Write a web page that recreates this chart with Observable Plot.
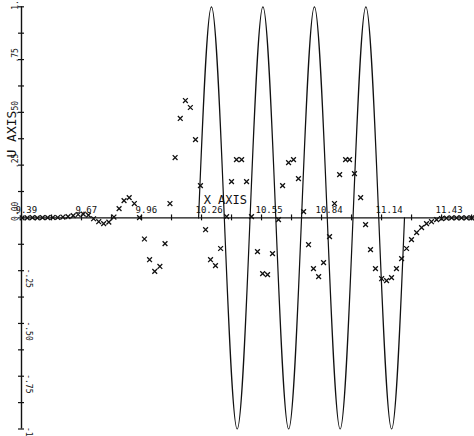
<!DOCTYPE html>
<html><head><meta charset="utf-8">
<script src="https://cdn.jsdelivr.net/npm/d3@7"></script>
<script src="https://cdn.jsdelivr.net/npm/@observablehq/plot@0.6"></script>
<style>body{margin:0;background:#fff} svg{display:block}</style>
</head><body><div id="chart"></div>
<script>
// X axis tick positions (labelled) and their printed labels
const xTickValues = [9.39, 9.6814, 9.9729, 10.2643, 10.5557, 10.8471, 11.1386, 11.43];
const xTickLabels = ["9.39", "9.67", "9.96", "10.26", "10.55", "10.84", "11.14", "11.43"];
// all tick marks on X axis (labelled + intermediate)
const xTickMarks = [9.39, 9.5357, 9.6814, 9.8271, 9.9729, 10.1186, 10.2643, 10.41, 10.5557, 10.7014, 10.8471, 10.9929, 11.1386, 11.2843, 11.43, 11.5757];
// Y axis tick marks
const yTickMarks = [-1, -0.875, -0.75, -0.625, -0.5, -0.375, -0.25, -0.125, 0, 0.125, 0.25, 0.375, 0.5, 0.625, 0.75, 0.875, 1];
const yPosTicks = [1, 0.75, 0.5, 0.25, 0];
const yPosLabels = ["1.00", ".75", ".50", ".25", "0.00"];
const yNegTicks = [-0.25, -0.5, -0.75, -1];
const yNegLabels = ["-.25", "-.50", "-.75", "-1.00"];
const xTitle = "X AXIS";
const yTitle = "U AXIS";

// exact wave (solid line): zero crossings and extremes
const waveX = [10.25, 10.3125, 10.375, 10.4375, 10.5, 10.5625, 10.625, 10.6875, 10.75, 10.8125, 10.875, 10.9375, 11.0, 11.0625, 11.125, 11.1875, 11.25];
const waveU = [0, 1, 0, -1, 0, 1, 0, -1, 0, 1, 0, -1, 0, 1, 0, -1, 0];

// computed values (x markers)
const markerX = [9.393, 9.418, 9.443, 9.467, 9.492, 9.517, 9.542, 9.566, 9.591, 9.616,
  9.641, 9.665, 9.690, 9.715, 9.740, 9.765, 9.789, 9.814, 9.839, 9.864,
  9.888, 9.913, 9.938, 9.963, 9.987, 10.012, 10.037, 10.062, 10.087, 10.111,
  10.136, 10.161, 10.186, 10.210, 10.235, 10.259, 10.284, 10.308, 10.332, 10.357,
  10.386, 10.410, 10.434, 10.459, 10.483, 10.507, 10.536, 10.561, 10.585, 10.609,
  10.638, 10.658, 10.687, 10.711, 10.735, 10.760, 10.784, 10.808, 10.833, 10.857,
  10.886, 10.910, 10.935, 10.964, 10.983, 11.007, 11.037, 11.061, 11.085, 11.109,
  11.139, 11.163, 11.187, 11.211, 11.236, 11.260, 11.284, 11.309, 11.333, 11.357,
  11.381, 11.406, 11.430, 11.454, 11.479, 11.503, 11.527, 11.551, 11.576];
const markerU = [0.000, 0.000, 0.001, 0.000, 0.001, 0.001, 0.002, 0.002, 0.004, 0.006,
  0.011, 0.016, 0.018, 0.013, -0.004, -0.018, -0.027, -0.020, 0.004, 0.044,
  0.082, 0.096, 0.068, 0.001, -0.100, -0.198, -0.253, -0.230, -0.122, 0.068,
  0.286, 0.471, 0.556, 0.523, 0.371, 0.153, -0.056, -0.198, -0.226, -0.145,
  0.006, 0.172, 0.276, 0.276, 0.172, 0.006, -0.160, -0.264, -0.269, -0.169,
  -0.008, 0.153, 0.262, 0.276, 0.186, 0.030, -0.127, -0.240, -0.278, -0.212,
  -0.089, 0.068, 0.205, 0.276, 0.276, 0.210, 0.096, -0.032, -0.150, -0.240,
  -0.288, -0.297, -0.283, -0.240, -0.193, -0.145, -0.103, -0.070, -0.046, -0.027,
  -0.018, -0.008, -0.003, -0.001, 0.000, 0.000, 0.000, 0.000, 0.000];

const ink = "#111";
const mono = "DejaVu Sans Mono";
const wave = waveX.map((x, i) => ({x, u: waveU[i]}));
const markers = markerX.map((x, i) => ({x, u: markerU[i]}));

const chart = Plot.plot({
  width: 474,
  height: 436,
  marginLeft: 21,
  marginRight: 0,
  marginTop: 6.3,
  marginBottom: 7.5,
  x: {domain: [9.39, 11.59], axis: null},
  y: {domain: [-1, 1], axis: null},
  style: {background: "white"},
  marks: [
    // axes
    Plot.ruleY([0], {x1: 9.39, x2: 11.59, stroke: ink, strokeWidth: 1.4}),
    Plot.ruleX([9.39], {y1: -1, y2: 1, stroke: ink, strokeWidth: 1.4}),
    Plot.ruleX(xTickMarks, {x: d => d, y1: -0.014, y2: 0.014, stroke: ink, strokeWidth: 1.2}),
    Plot.ruleY(yTickMarks, {y: d => d, x1: 9.3755, x2: 9.4045, stroke: ink, strokeWidth: 1.2}),
    // tick labels
    Plot.text(xTickValues, {x: d => d, y: 0, text: (d, i) => xTickLabels[i], textAnchor: "start",
      lineAnchor: "bottom", dx: -6, dy: -5, fontSize: 9, fontFamily: mono, fill: ink}),
    Plot.text(yPosTicks, {x: 9.39, y: d => d, text: (d, i) => yPosLabels[i], rotate: -90,
      textAnchor: "start", lineAnchor: "bottom", dx: -3.5, dy: 3, fontSize: 8, fontFamily: mono, fill: ink}),
    Plot.text(yNegTicks, {x: 9.39, y: d => d, text: (d, i) => yNegLabels[i], rotate: 90,
      textAnchor: "start", lineAnchor: "bottom", dx: 4, dy: -2, fontSize: 8, fontFamily: mono, fill: ink}),
    // axis titles
    Plot.text([0.397], {x: 9.39, y: d => d, text: () => yTitle, rotate: -90, textAnchor: "middle",
      lineAnchor: "bottom", dx: -5.5, fontSize: 13, fontFamily: mono, fill: ink}),
    Plot.text([0], {x: 10.26, y: d => d, text: () => xTitle, textAnchor: "start", lineAnchor: "bottom",
      dx: 3, dy: -14.3, fontSize: 12, fontFamily: mono, fill: ink}),
    // exact solution
    Plot.line(wave, {x: "x", y: "u", curve: "natural", stroke: ink, strokeWidth: 1.2}),
    // computed points
    Plot.dot(markers, {x: "x", y: "u", symbol: "times", r: 2.3, stroke: ink, strokeWidth: 1.3})
  ]
});
document.getElementById("chart").append(chart);
</script>
</body></html>
